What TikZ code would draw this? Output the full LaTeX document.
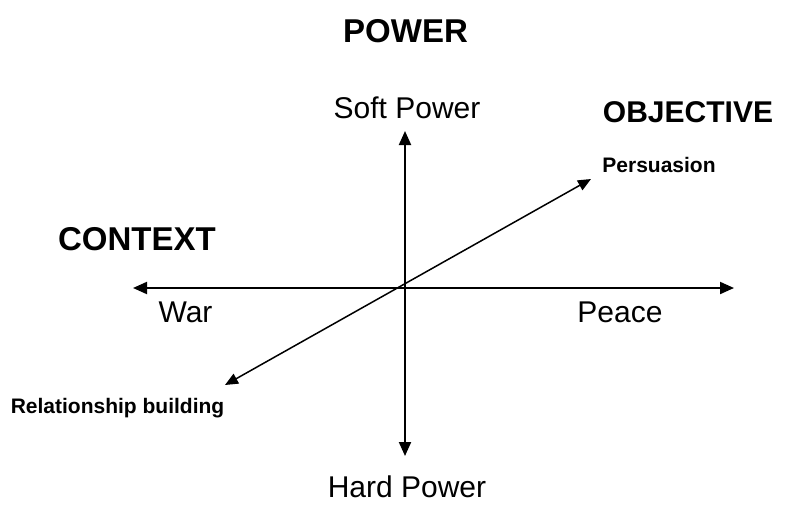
\documentclass[tikz,border=0pt]{standalone}
\usepackage{fontspec}
\setmainfont{Liberation Sans}
\usetikzlibrary{arrows.meta}
\begin{document}
\begin{tikzpicture}[x=1pt,y=-1pt,
  axis/.style={line width=2pt,{Triangle[length=14pt,width=12pt]}-{Triangle[length=14pt,width=12pt]}},
  diag/.style={line width=1.5pt,{Triangle[length=13pt,width=11pt]}-{Triangle[length=13pt,width=11pt]}},
  lbl/.style={anchor=base,inner sep=0pt},
  big/.style={lbl,font=\fontsize{30}{36}\selectfont},
  head/.style={lbl,font=\fontsize{33}{40}\selectfont\bfseries},
  small/.style={lbl,font=\fontsize{21}{25}\selectfont\bfseries}]
\useasboundingbox (0,0) rectangle (800,504);
\coordinate (L) at (133,288);
\coordinate (R) at (734,288);
\coordinate (T) at (405,131);
\coordinate (B) at (405,456);
\coordinate (DL) at (225,385);
\coordinate (DR) at (591,179);
\draw[axis] (L) -- (R);
\draw[axis] (T) -- (B);
\draw[diag] (DL) -- (DR);
\node[head] (power) at (405.5,42) {POWER};
\node[big] (soft) at (407,118) {Soft Power};
\node[head,font=\fontsize{30}{36}\selectfont\bfseries] (obj) at (688,122) {OBJECTIVE};
\node[small] (pers) at (659,172) {Persuasion};
\node[head] (ctx) at (137,250) {CONTEXT};
\node[big] (war) at (185.5,322) {War};
\node[big] (peace) at (620,322) {Peace};
\node[small] (rel) at (117.5,413) {Relationship building};
\node[big] (hard) at (407,497) {Hard Power};
\end{tikzpicture}
\end{document}
